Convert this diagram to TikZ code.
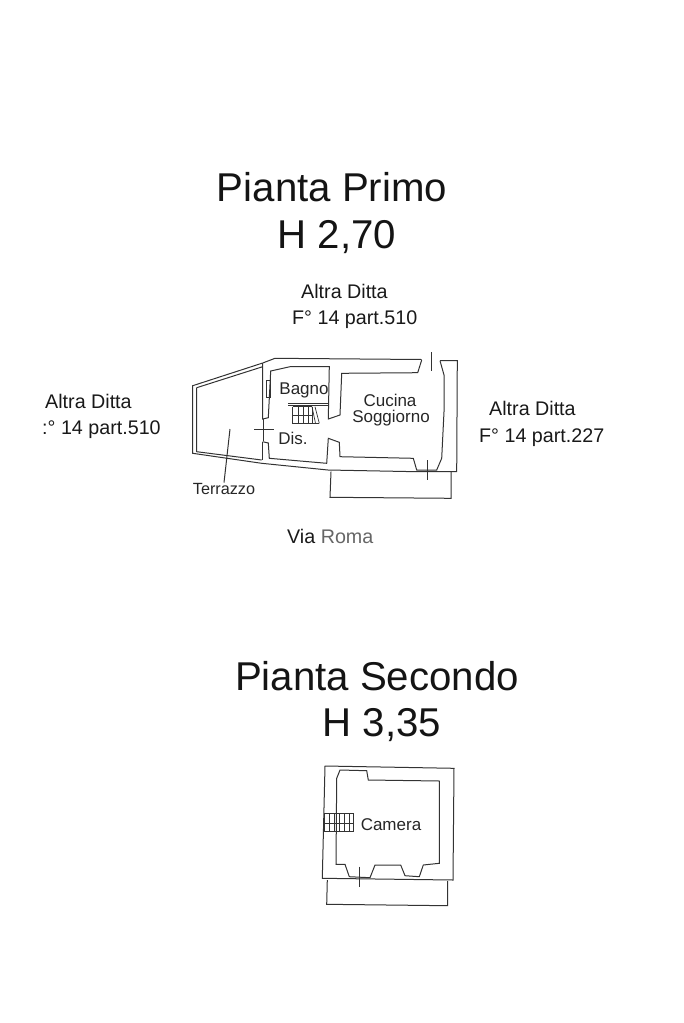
\documentclass[tikz,border=0pt]{standalone}
\usepackage{fontspec}
\setmainfont{Liberation Sans}
\definecolor{plan}{gray}{0.2}
\tikzset{>=latex}
\tikzset{
  title/.style={anchor=base, text=black!92, font=\fontsize{40.2}{40}\selectfont},
  ditta/.style={anchor=base west, inner sep=0pt, text=black!90, font=\fontsize{19.7}{20}\selectfont},
  room/.style={anchor=base, inner sep=0pt, text=black!85, font=\fontsize{17}{18}\selectfont},
  wall/.style={draw=plan, line width=1pt},
  tread/.style={draw=plan, line width=0.7pt}
}
\begin{document}
\begin{tikzpicture}[x=1pt, y=-1pt]
  \useasboundingbox (0, 0) rectangle (683, 1023);
  % titles
  \node[title] (primo) at (332, 201) {Pianta Primo};
  \node[title] (hprimo) at (337, 248) {H 2,70};
  \node[title] (secondo) at (377, 690) {Pianta Secondo};
  \node[title] (hsecondo) at (382, 736) {H 3,35};
  % neighbours
  \node[ditta] (topa) at (301, 298) {Altra Ditta};
  \node[ditta] (topb) at (292, 324) {F° 14 part.510};
  \node[ditta] (lefta) at (45, 408) {Altra Ditta};
  \node[ditta] (leftb) at (42, 434) {:° 14 part.510};
  \node[ditta] (righta) at (489, 415) {Altra Ditta};
  \node[ditta] (rightb) at (479, 442) {F° 14 part.227};
  \node[ditta] (via) at (287, 543) {Via \textcolor{black!60}{Roma}};
  % first floor, rooms
  \node[room] (bagno) at (304, 394) {Bagno};
  \node[room] (cucina) at (390, 406) {Cucina};
  \node[room] (soggiorno) at (391, 422) {Soggiorno};
  \node[room] (dis) at (293, 444) {Dis.};
  \node[room, font=\fontsize{16.2}{17}\selectfont] (terrazzo) at (224, 494) {Terrazzo};
  \coordinate (leader) at (230, 429);
  \draw[wall] (terrazzo.north) -- (leader);
  % first floor, outer walls
  \draw[wall] (262.7, 363) -- (192.7, 385.7) -- (192.7, 453.3) -- (261.7, 463.3) -- (328, 470)
    -- (416.7, 471.7) -- (437.3, 471.7) -- (456.7, 471.7) -- (457.3, 360.7) -- (440, 360.7);
  \draw[wall] (262.7, 363) -- (275, 358.3) -- (421.7, 359.5);
  \draw[wall] (196.7, 387.7) -- (262.7, 366.7);
  \draw[wall] (196.7, 387.7) -- (196.7, 451.7) -- (261.7, 460);
  \draw[wall] (262.7, 363) -- (262.7, 419) -- (268.3, 417.7) -- (270.7, 371) -- (290, 366.7) -- (329.3, 366.7)
    -- (328.3, 419) -- (340, 415) -- (341.7, 373.3) -- (417.7, 372.7) -- (421.7, 360);
  \draw[wall] (262.7, 441.7) -- (262.7, 460);
  \draw[wall] (262.7, 441.7) -- (268.3, 443) -- (269.3, 458.3) -- (326.7, 463.3) -- (328.3, 438.3)
    -- (339.3, 442.3) -- (340, 456.7) -- (413.3, 458.3) -- (416.7, 470) -- (436.7, 470)
    -- (441.7, 458.3) -- (444, 411.7) -- (444, 375) -- (440, 360.7);
  \draw[wall] (266, 380) rectangle (270, 397);
  % doors and balcony
  \draw[wall] (254, 429) -- (274, 429);
  \draw[wall] (263, 419) -- (263, 441);
  \draw[wall] (431, 352) -- (431, 371);
  \draw[wall] (427.3, 460) -- (427.3, 480);
  \draw[wall] (331, 471.7) -- (330, 497.3) -- (451, 498.3) -- (451, 471.7);
  % first floor, stairs
  \draw[wall] (288, 403.5) -- (328, 403.5);
  \draw[wall] (288, 405.5) -- (328, 405.5);
  \draw[tread] (292.7, 406.7) -- (292.7, 423.3) -- (319.3, 423.3);
  \draw[tread] (292.7, 406.7) -- (312, 406.7);
  \foreach \stepx in {298, 303, 308, 312} {
    \draw[tread] (\stepx, 406.7) -- (\stepx, 423.3);
  }
  \draw[tread] (292.7, 415) -- (312, 415);
  \draw[tread] (312, 406.7) -- (315.5, 423.3);
  \draw[tread] (315, 406.7) -- (319.3, 423.3);
  % second floor
  \node[room] (camera) at (391, 830) {Camera};
  \draw[wall] (325, 766) -- (454, 768.3) -- (453, 880) -- (322.3, 878.3) -- cycle;
  \draw[wall] (340, 770) -- (366.7, 770.7) -- (368.3, 780) -- (439.3, 781) -- (439.3, 863.3) -- (423.3, 865)
    -- (419.3, 876.7) -- (405, 875.7) -- (400.7, 865) -- (375, 865) -- (370, 877.7) -- (349.3, 876.7)
    -- (345, 864.3) -- (336, 864.3) -- (336.7, 778.3) -- cycle;
  \draw[wall] (359, 866.7) -- (359, 886.7);
  \draw[wall] (327.3, 880) -- (326.7, 904.3) -- (447.7, 905.7) -- (447.7, 881);
  \draw[tread] (324.3, 813.3) rectangle (353.3, 831.7);
  \foreach \stepx in {329, 334, 339, 344, 349} {
    \draw[tread] (\stepx, 813.3) -- (\stepx, 831.7);
  }
  \draw[tread] (324.3, 823) -- (353.3, 823);
\end{tikzpicture}
\end{document}
